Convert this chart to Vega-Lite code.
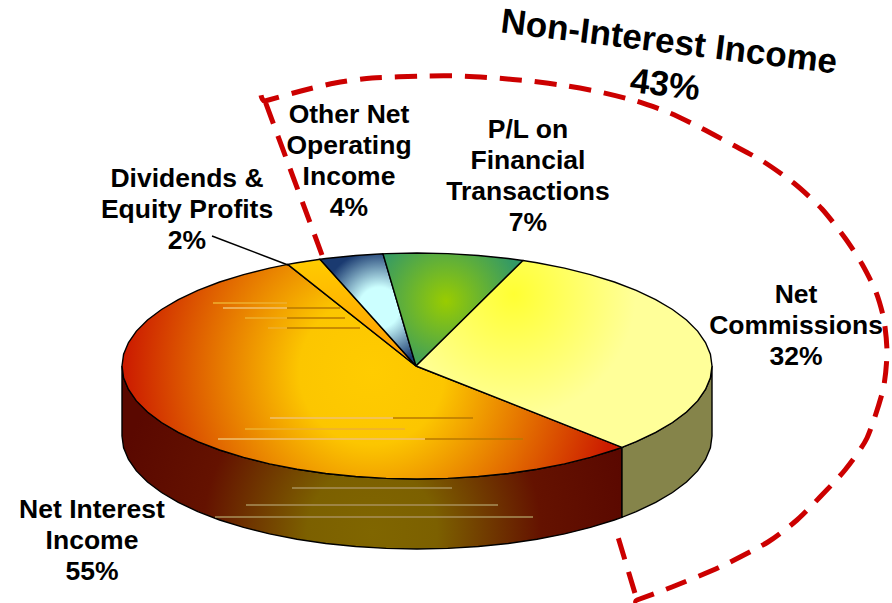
{"$schema":"https://vega.github.io/schema/vega-lite/v6.json","width":892,"height":603,"padding":0,"autosize":{"type":"none"},"background":"white","config":{"view":{"stroke":null}},
"datasets":{
"wallInterest":[{"i":0,"x":622,"y":447.3},{"i":1,"x":614.4,"y":450},{"i":2,"x":590.4,"y":457.4},{"i":3,"x":564.5,"y":463.9},{"i":4,"x":537,"y":469.2},{"i":5,"x":508.2,"y":473.5},{"i":6,"x":478.3,"y":476.5},{"i":7,"x":447.8,"y":478.4},{"i":8,"x":417,"y":479},{"i":9,"x":386.2,"y":478.4},{"i":10,"x":355.7,"y":476.5},{"i":11,"x":325.8,"y":473.5},{"i":12,"x":297,"y":469.2},{"i":13,"x":269.5,"y":463.9},{"i":14,"x":243.6,"y":457.4},{"i":15,"x":219.6,"y":450},{"i":16,"x":197.8,"y":441.6},{"i":17,"x":178.3,"y":432.4},{"i":18,"x":161.5,"y":422.5},{"i":19,"x":147.5,"y":412},{"i":20,"x":136.4,"y":400.9},{"i":21,"x":128.5,"y":389.5},{"i":22,"x":123.6,"y":377.8},{"i":23,"x":122,"y":366},{"i":24,"x":122,"y":436},{"i":25,"x":123.6,"y":447.8},{"i":26,"x":128.5,"y":459.5},{"i":27,"x":136.4,"y":470.9},{"i":28,"x":147.5,"y":482},{"i":29,"x":161.5,"y":492.5},{"i":30,"x":178.3,"y":502.4},{"i":31,"x":197.8,"y":511.6},{"i":32,"x":219.6,"y":520},{"i":33,"x":243.6,"y":527.4},{"i":34,"x":269.5,"y":533.9},{"i":35,"x":297,"y":539.2},{"i":36,"x":325.8,"y":543.5},{"i":37,"x":355.7,"y":546.5},{"i":38,"x":386.2,"y":548.4},{"i":39,"x":417,"y":549},{"i":40,"x":447.8,"y":548.4},{"i":41,"x":478.3,"y":546.5},{"i":42,"x":508.2,"y":543.5},{"i":43,"x":537,"y":539.2},{"i":44,"x":564.5,"y":533.9},{"i":45,"x":590.4,"y":527.4},{"i":46,"x":614.4,"y":520},{"i":47,"x":622,"y":517.3},{"i":48,"x":622,"y":447.3}],
"wallCommissions":[{"i":0,"x":712,"y":366},{"i":1,"x":710.4,"y":377.8},{"i":2,"x":705.5,"y":389.5},{"i":3,"x":697.6,"y":400.9},{"i":4,"x":686.5,"y":412},{"i":5,"x":672.5,"y":422.5},{"i":6,"x":655.7,"y":432.4},{"i":7,"x":636.2,"y":441.6},{"i":8,"x":622,"y":447.3},{"i":9,"x":622,"y":517.3},{"i":10,"x":636.2,"y":511.6},{"i":11,"x":655.7,"y":502.4},{"i":12,"x":672.5,"y":492.5},{"i":13,"x":686.5,"y":482},{"i":14,"x":697.6,"y":470.9},{"i":15,"x":705.5,"y":459.5},{"i":16,"x":710.4,"y":447.8},{"i":17,"x":712,"y":436},{"i":18,"x":712,"y":366}],
"interest":[{"i":0,"x":416,"y":366},{"i":1,"x":622,"y":447.3},{"i":2,"x":614.4,"y":450},{"i":3,"x":590.4,"y":457.4},{"i":4,"x":564.5,"y":463.9},{"i":5,"x":537,"y":469.2},{"i":6,"x":508.2,"y":473.5},{"i":7,"x":478.3,"y":476.5},{"i":8,"x":447.8,"y":478.4},{"i":9,"x":417,"y":479},{"i":10,"x":386.2,"y":478.4},{"i":11,"x":355.7,"y":476.5},{"i":12,"x":325.8,"y":473.5},{"i":13,"x":297,"y":469.2},{"i":14,"x":269.5,"y":463.9},{"i":15,"x":243.6,"y":457.4},{"i":16,"x":219.6,"y":450},{"i":17,"x":197.8,"y":441.6},{"i":18,"x":178.3,"y":432.4},{"i":19,"x":161.5,"y":422.5},{"i":20,"x":147.5,"y":412},{"i":21,"x":136.4,"y":400.9},{"i":22,"x":128.5,"y":389.5},{"i":23,"x":123.6,"y":377.8},{"i":24,"x":122,"y":366},{"i":25,"x":123.6,"y":354.2},{"i":26,"x":128.5,"y":342.5},{"i":27,"x":136.4,"y":331.1},{"i":28,"x":147.5,"y":320},{"i":29,"x":161.5,"y":309.5},{"i":30,"x":178.3,"y":299.6},{"i":31,"x":197.8,"y":290.4},{"i":32,"x":219.6,"y":282},{"i":33,"x":243.6,"y":274.6},{"i":34,"x":269.5,"y":268.1},{"i":35,"x":287.7,"y":264.4},{"i":36,"x":416,"y":366}],
"dividends":[{"i":0,"x":416,"y":366},{"i":1,"x":287.7,"y":264.4},{"i":2,"x":297,"y":262.8},{"i":3,"x":320,"y":259.3},{"i":4,"x":416,"y":366}],
"other":[{"i":0,"x":416,"y":366},{"i":1,"x":320,"y":259.3},{"i":2,"x":325.8,"y":258.5},{"i":3,"x":355.7,"y":255.5},{"i":4,"x":383,"y":253.8},{"i":5,"x":416,"y":366}],
"pl":[{"i":0,"x":416,"y":366},{"i":1,"x":383,"y":253.8},{"i":2,"x":386.2,"y":253.6},{"i":3,"x":417,"y":253},{"i":4,"x":447.8,"y":253.6},{"i":5,"x":478.3,"y":255.5},{"i":6,"x":508.2,"y":258.5},{"i":7,"x":523,"y":260.5},{"i":8,"x":416,"y":366}],
"commissions":[{"i":0,"x":416,"y":366},{"i":1,"x":523,"y":260.5},{"i":2,"x":537,"y":262.8},{"i":3,"x":564.5,"y":268.1},{"i":4,"x":590.4,"y":274.6},{"i":5,"x":614.4,"y":282},{"i":6,"x":636.2,"y":290.4},{"i":7,"x":655.7,"y":299.6},{"i":8,"x":672.5,"y":309.5},{"i":9,"x":686.5,"y":320},{"i":10,"x":697.6,"y":331.1},{"i":11,"x":705.5,"y":342.5},{"i":12,"x":710.4,"y":354.2},{"i":13,"x":712,"y":366},{"i":14,"x":710.4,"y":377.8},{"i":15,"x":705.5,"y":389.5},{"i":16,"x":697.6,"y":400.9},{"i":17,"x":686.5,"y":412},{"i":18,"x":672.5,"y":422.5},{"i":19,"x":655.7,"y":432.4},{"i":20,"x":636.2,"y":441.6},{"i":21,"x":622,"y":447.3},{"i":22,"x":416,"y":366}],
"streaks":[{"x":270,"x2":393,"y":418,"kind":"pale"},{"x":393,"x2":473,"y":418,"kind":"dark"},{"x":218,"x2":425,"y":439,"kind":"pale"},{"x":425,"x2":523,"y":439,"kind":"dark"},{"x":245,"x2":405,"y":429,"kind":"faint"},{"x":223,"x2":287,"y":308,"kind":"pale"},{"x":287,"x2":340,"y":308,"kind":"dark"},{"x":213,"x2":287,"y":303,"kind":"faint"},{"x":245,"x2":287,"y":318,"kind":"faint"},{"x":287,"x2":345,"y":318,"kind":"dark"},{"x":268,"x2":287,"y":328,"kind":"faint"},{"x":287,"x2":360,"y":328,"kind":"dark"},{"x":292,"x2":452,"y":488,"kind":"wall"},{"x":246,"x2":498,"y":505,"kind":"wall"},{"x":215,"x2":533,"y":517,"kind":"wall"}],
"leader":[{"i":0,"x":212,"y":236},{"i":1,"x":288,"y":265}],
"dash":[{"i":0,"x":322,"y":255},{"i":1,"x":265,"y":101},{"i":2,"x":265,"y":101},{"i":3,"x":301,"y":91},{"i":4,"x":335,"y":83},{"i":5,"x":372,"y":78},{"i":6,"x":425,"y":76},{"i":7,"x":461,"y":76},{"i":8,"x":495,"y":78},{"i":9,"x":530,"y":81},{"i":10,"x":567,"y":86},{"i":11,"x":600,"y":92},{"i":12,"x":636,"y":101},{"i":13,"x":670,"y":113},{"i":14,"x":701,"y":128},{"i":15,"x":733,"y":145},{"i":16,"x":764,"y":162},{"i":17,"x":795,"y":184},{"i":18,"x":822,"y":209},{"i":19,"x":845,"y":238},{"i":20,"x":862,"y":264},{"i":21,"x":876,"y":292},{"i":22,"x":884,"y":320},{"i":23,"x":887,"y":353},{"i":24,"x":883,"y":390},{"i":25,"x":867,"y":438},{"i":26,"x":845,"y":470},{"i":27,"x":820,"y":497},{"i":28,"x":797,"y":520},{"i":29,"x":768,"y":542},{"i":30,"x":720,"y":567},{"i":31,"x":672,"y":587},{"i":32,"x":637,"y":600},{"i":33,"x":637,"y":600},{"i":34,"x":615,"y":527}],
"labels":[{"x":796,"y":295,"text":"Net\nCommissions\n32%"},{"x":349,"y":115,"text":"Other Net\nOperating\nIncome\n4%"},{"x":528,"y":130,"text":"P/L on\nFinancial\nTransactions\n7%"},{"x":187,"y":179,"text":"Dividends &\nEquity Profits\n2%"},{"x":92,"y":510,"text":"Net Interest\nIncome\n55%"}],
"title":[{"x":669,"y":42,"text":"Non-Interest Income"},{"x":665,"y":85,"text":"43%"}]
},
"encoding":{"x":{"field":"x","type":"quantitative","scale":{"domain":[0,892],"nice":false,"zero":false},"axis":null},"y":{"field":"y","type":"quantitative","scale":{"domain":[603,0],"nice":false,"zero":false},"axis":null}},
"layer":[
{"data":{"name":"wallInterest"},"mark":{"type":"line","stroke":"black","strokeWidth":1.4,"fill":{"gradient":"radial","x1":0.5,"y1":0.65,"r1":0,"x2":0.5,"y2":0.65,"r2":0.52,"stops":[{"offset":0,"color":"#806600"},{"offset":0.25,"color":"#7c6000"},{"offset":0.65,"color":"#641200"},{"offset":1,"color":"#5a0800"}]}},"encoding":{"order":{"field":"i"}}},
{"data":{"name":"wallCommissions"},"mark":{"type":"line","stroke":"black","strokeWidth":1.4,"fill":"#85844a"},"encoding":{"order":{"field":"i"}}},
{"data":{"name":"interest"},"mark":{"type":"line","stroke":"black","strokeWidth":1.4,"fill":{"gradient":"radial","x1":0.5,"y1":0.5,"r1":0,"x2":0.5,"y2":0.5,"r2":0.52,"stops":[{"offset":0,"color":"#ffcc00"},{"offset":0.28,"color":"#fcc600"},{"offset":0.95,"color":"#cc1c00"},{"offset":1,"color":"#cc1c00"}]}},"encoding":{"order":{"field":"i"}}},
{"data":{"name":"dividends"},"mark":{"type":"line","stroke":"black","strokeWidth":1.4,"fill":{"gradient":"linear","x1":0,"y1":0,"x2":0,"y2":1,"stops":[{"offset":0,"color":"#ffcc00"},{"offset":1,"color":"#ff9900"}]}},"encoding":{"order":{"field":"i"}}},
{"data":{"name":"other"},"mark":{"type":"line","stroke":"black","strokeWidth":1.4,"fill":{"gradient":"radial","x1":0.6,"y1":0.48,"r1":0,"x2":0.6,"y2":0.48,"r2":0.52,"stops":[{"offset":0,"color":"#ccffff"},{"offset":0.35,"color":"#ccffff"},{"offset":1,"color":"#1a3a70"}]}},"encoding":{"order":{"field":"i"}}},
{"data":{"name":"pl"},"mark":{"type":"line","stroke":"black","strokeWidth":1.4,"fill":{"gradient":"radial","x1":0.45,"y1":0.44,"r1":0,"x2":0.45,"y2":0.44,"r2":0.55,"stops":[{"offset":0,"color":"#99cc00"},{"offset":1,"color":"#339966"}]}},"encoding":{"order":{"field":"i"}}},
{"data":{"name":"commissions"},"mark":{"type":"line","stroke":"black","strokeWidth":1.4,"fill":{"gradient":"radial","x1":0.33,"y1":0.3,"r1":0,"x2":0.33,"y2":0.3,"r2":0.55,"stops":[{"offset":0,"color":"#ffff33"},{"offset":0.75,"color":"#ffff99"},{"offset":1,"color":"#ffff99"}]}},"encoding":{"order":{"field":"i"}}},
{"data":{"name":"streaks"},"mark":{"type":"rule","strokeWidth":1.5},"encoding":{"x2":{"field":"x2"},"color":{"field":"kind","type":"nominal","legend":null,"scale":{"domain":["pale","faint","dark","wall"],"range":["#f0c070","#eeb030","#b87800","#a8905a"]}}}},
{"data":{"name":"leader"},"mark":{"type":"line","stroke":"black","strokeWidth":1.5},"encoding":{"order":{"field":"i"}}},
{"data":{"name":"dash"},"mark":{"type":"line","interpolate":"cardinal","tension":0.3,"stroke":"#cc0000","strokeWidth":5,"strokeDash":[22,13]},"encoding":{"order":{"field":"i"}}},
{"data":{"name":"labels"},"mark":{"type":"text","font":"Liberation Sans","fontWeight":"bold","fontSize":26.5,"lineHeight":31,"lineBreak":"\n","align":"center","baseline":"middle","color":"black"},"encoding":{"text":{"field":"text"}}},
{"data":{"name":"title"},"mark":{"type":"text","font":"Liberation Sans","fontWeight":"bold","fontSize":35,"angle":7,"align":"center","baseline":"middle","color":"black"},"encoding":{"text":{"field":"text"}}}
]}
